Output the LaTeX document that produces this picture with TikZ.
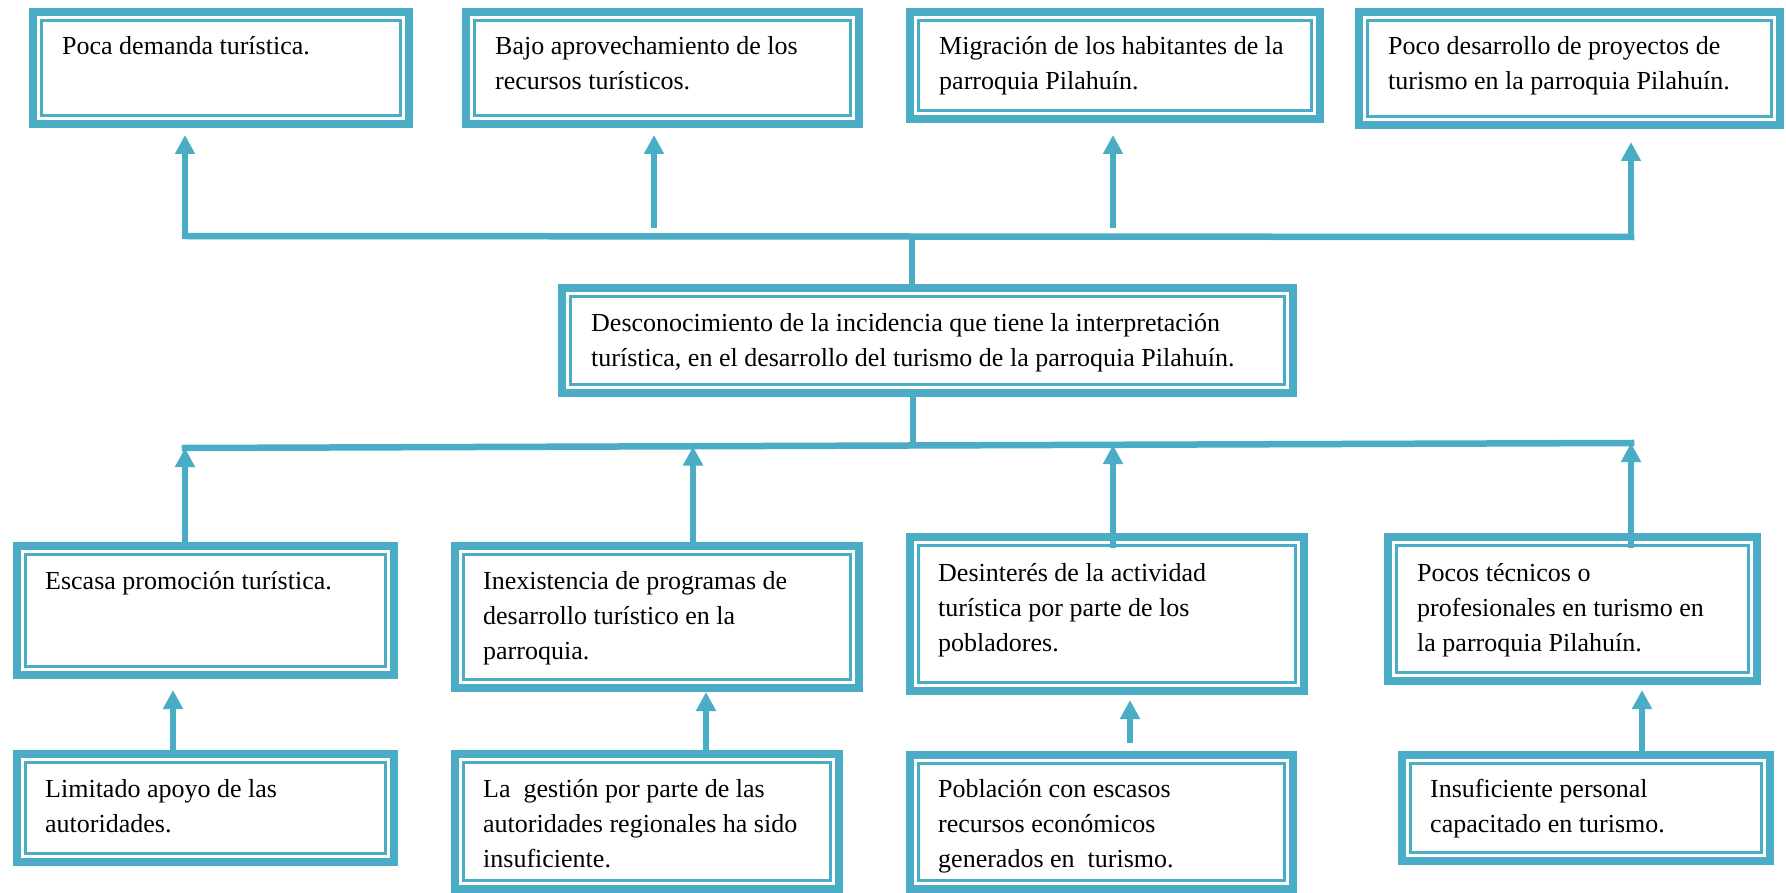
\documentclass[tikz,border=0pt]{standalone}
\usepackage{fontspec}
\setmainfont{Liberation Serif}
\usetikzlibrary{arrows.meta,calc}
\definecolor{tb}{RGB}{75,172,198}
\newcommand\mlines[1]{\begin{tabular}[t]{@{}l@{}}#1\end{tabular}}
\tikzset{
 cbox/.style={inner sep=0pt, outer sep=0pt, draw=none, fill=white, anchor=north west,
   path picture={
     \draw[tb, line width=8pt] ([shift={(4pt,-4pt)}]path picture bounding box.north west) rectangle ([shift={(-4pt,4pt)}]path picture bounding box.south east);
     \draw[tb, line width=2.5pt] ([shift={(12.5pt,-12.5pt)}]path picture bounding box.north west) rectangle ([shift={(-12.5pt,12.5pt)}]path picture bounding box.south east);
   }},
 ctext/.style={inner sep=0pt, anchor=base west, font=\fontsize{26}{35}\selectfont},
 arr/.style={tb, line width=5.5pt, -{Triangle[width=19pt,length=19pt]}},
 bus/.style={tb, line width=6.5pt, line cap=rect},
 vline/.style={tb, line width=6pt},
}
\begin{document}
\begin{tikzpicture}[x=1pt,y=-1pt]
\fill[white] (0,0) rectangle (1786,893);
\useasboundingbox (0,0) rectangle (1786,893);
% boxes
\node[cbox, minimum width=384pt, minimum height=120pt] (T1) at (29,8) {};
\node[cbox, minimum width=401pt, minimum height=120pt] (T2) at (462,8) {};
\node[cbox, minimum width=418pt, minimum height=115pt] (T3) at (906,8) {};
\node[cbox, minimum width=429pt, minimum height=121pt] (T4) at (1355,8) {};
\node[cbox, minimum width=739pt, minimum height=113pt] (C) at (558,284) {};
\node[cbox, minimum width=385pt, minimum height=137pt] (M1) at (13,542) {};
\node[cbox, minimum width=412pt, minimum height=150pt] (M2) at (451,542) {};
\node[cbox, minimum width=402pt, minimum height=162pt] (M3) at (906,533) {};
\node[cbox, minimum width=377pt, minimum height=152pt] (M4) at (1384,533) {};
\node[cbox, minimum width=385pt, minimum height=116pt] (L1) at (13,750) {};
\node[cbox, minimum width=392pt, minimum height=143pt] (L2) at (451,750) {};
\node[cbox, minimum width=391pt, minimum height=142pt] (L3) at (906,751) {};
\node[cbox, minimum width=376pt, minimum height=114pt] (L4) at (1398,751) {};
% texts
\node[ctext] (tT1) at ($(T1.north west)+(33pt,-47pt)$) {\mlines{Poca demanda turística.}};
\node[ctext] (tT2) at ($(T2.north west)+(33pt,-47pt)$) {\mlines{Bajo aprovechamiento de los\\recursos turísticos.}};
\node[ctext] (tT3) at ($(T3.north west)+(33pt,-47pt)$) {\mlines{Migración de los habitantes de la\\parroquia Pilahuín.}};
\node[ctext] (tT4) at ($(T4.north west)+(33pt,-47pt)$) {\mlines{Poco desarrollo de proyectos de\\turismo en la parroquia Pilahuín.}};
\node[ctext] (tC) at ($(C.north west)+(33pt,-48pt)$) {\mlines{Desconocimiento de la incidencia que tiene la interpretación\\turística, en el desarrollo del turismo de la parroquia Pilahuín.}};
\node[ctext] (tM1) at ($(M1.north west)+(32pt,-47pt)$) {\mlines{Escasa promoción turística.}};
\node[ctext] (tM2) at ($(M2.north west)+(32pt,-47pt)$) {\mlines{Inexistencia de programas de\\desarrollo turístico en la\\parroquia.}};
\node[ctext] (tM3) at ($(M3.north west)+(32pt,-48pt)$) {\mlines{Desinterés de la actividad\\turística por parte de los\\pobladores.}};
\node[ctext] (tM4) at ($(M4.north west)+(33pt,-48pt)$) {\mlines{Pocos técnicos o\\profesionales en turismo en\\la parroquia Pilahuín.}};
\node[ctext] (tL1) at ($(L1.north west)+(32pt,-47pt)$) {\mlines{Limitado apoyo de las\\autoridades.}};
\node[ctext] (tL2) at ($(L2.north west)+(32pt,-47pt)$) {\mlines{La\ \ gestión por parte de las\\autoridades regionales ha sido\\insuficiente.}};
\node[ctext] (tL3) at ($(L3.north west)+(32pt,-46pt)$) {\mlines{Población con escasos\\recursos económicos\\generados en\ \ turismo.}};
\node[ctext] (tL4) at ($(L4.north west)+(32pt,-46pt)$) {\mlines{Insuficiente personal\\capacitado en turismo.}};
% upper bus
\coordinate (ub1) at (185,236);
\coordinate (ub4) at (1631,237);
\coordinate (ua2) at (654,228);
\coordinate (ua3) at (1113,228);
\coordinate (uc) at (912,236);
\draw[bus] (ub1) -- (ub4);
\draw[arr, shorten >=7pt] (ub1) -- (ub1 |- T1.south);
\draw[arr, shorten >=7pt] (ua2) -- (ua2 |- T2.south);
\draw[arr, shorten >=12pt] (ua3) -- (ua3 |- T3.south);
\draw[arr, shorten >=13pt] (ub4) -- (ub4 |- T4.south);
\draw[vline] (uc) -- (uc |- C.north);
% lower bus
\coordinate (lb1) at (185,448);
\coordinate (lb4) at (1631,443);
\coordinate (la2) at (693,446.5);
\coordinate (la3) at (1113,445);
\coordinate (lc) at (913,445.5);
\draw[bus] (lb1) -- (lb4);
\draw[vline] (lc |- C.south) -- (lc);
\draw[arr] (lb1 |- M1.north) -- (lb1);
\draw[arr] (la2 |- M2.north) -- (la2);
\draw[arr] ($(la3 |- M3.north)+(0,15)$) -- (la3);
\draw[arr] ($(lb4 |- M4.north)+(0,15)$) -- (lb4);
% bottom arrows
\coordinate (ba1) at (173,0);
\coordinate (ba2) at (706,0);
\coordinate (ba3) at (1130,0);
\coordinate (ba4) at (1642,0);
\draw[arr, shorten >=11pt] (ba1 |- L1.north) -- (ba1 |- M1.south);
\draw[arr] (ba2 |- L2.north) -- (ba2 |- M2.south);
\draw[arr, shorten <=8pt, shorten >=5pt] (ba3 |- L3.north) -- (ba3 |- M3.south);
\draw[arr, shorten >=5pt] (ba4 |- L4.north) -- (ba4 |- M4.south);
\end{tikzpicture}
\end{document}
